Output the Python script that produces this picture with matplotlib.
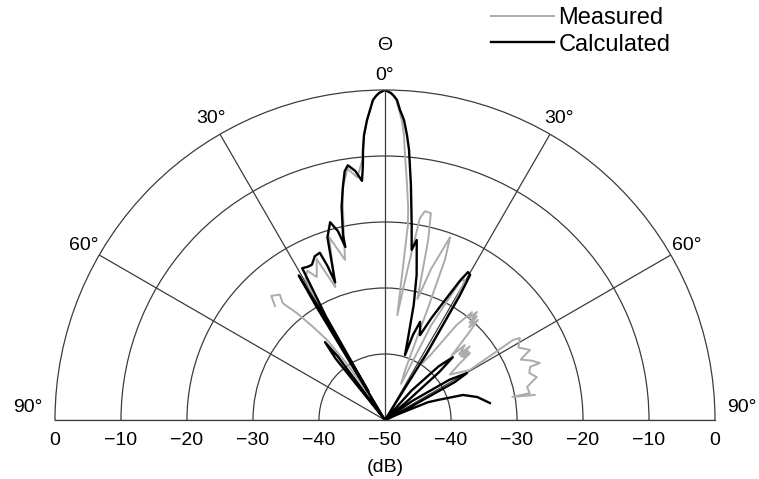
import numpy as np
import matplotlib
matplotlib.use("Agg")
import matplotlib.pyplot as plt
from matplotlib.transforms import ScaledTranslation

plt.rcParams['font.family'] = ['Liberation Sans', 'DejaVu Sans']

# ---- data (theta in degrees, level in dB) ----
calc_theta = [-40, -38.8, -37.6, -36.6, -35.5,
              -32.0, -31.2, -30.8, -30.4, -30.1, -29.7, -28.6,
              -26.8, -25.2, -23.2, -21.3, -20.5, -19.9, -17.5, -15.5, -14.0, -12.9, -12.8,
              -11.5, -10.1, -9.2, -8.3, -6.8, -5.5, -5.0, -4.66, -4.21, -3.43, -2.77, -2.15,
              -1.6, -1.05, 0.0,
              1.05, 1.6, 2.15, 2.77, 3.62, 4.41, 5.08, 6.3, 7.8, 8.9, 10.0, 12.3, 14.0, 15.7,
              17.1, 18.2,
              19.7, 22.4, 24.5, 26.6, 28.3, 29.3, 30.4, 31.0, 32.0, 33.5,
              40.0, 42.0, 45.0, 47.2, 48.5, 50.0, 51.0,
              53.0, 55.0, 58.0, 60.2, 61.5, 63.0, 64.0,
              66.0, 67.5, 69.3, 72.2, 76.0, 80.8]
calc_db = [-50, -38, -35.1, -38, -50,
           -50, -30, -24.5, -32, -45, -32, -23.8,
           -24.0, -24.0, -23.0, -22.8, -25.0, -27.8, -21.0, -18.9, -20.5, -23.1, -21.3,
           -17.0, -13.8, -11.8, -11.0, -12.0, -13.6, -11.5, -9.0, -6.7, -4.47, -2.97, -1.48,
           -0.9, -0.45, 0.0,
           -0.45, -0.9, -1.48, -2.97, -4.45, -6.7, -8.9, -14.2, -20.2, -23.9, -22.3, -27.5, -32.0, -37.1,
           -39.7, -36.4,
           -34.2, -36.1, -33.0, -29.7, -26.0, -24.3, -24.5, -28.0, -38.0, -50,
           -50, -44, -38.5, -36.0, -39.0, -46, -50,
           -50, -45, -38.5, -35.7, -38.0, -46, -50,
           -48, -43, -41.4, -37.6, -35.6, -33.9]

meas_theta = [-44.0, -42.5, -40.0, -41.2, -39.5, -37.7, -35.9, -34.0, -32.5,
              -31.5, -30.5, -29.5, -27.5, -25.5, -23.0, -20.5, -17.0, -14.0, -12.8,
              -10.5, -8.5, -6.5, -5.0, -4.66, -4.21, -3.43, -2.77, -2.15, -1.6, -1.05, 0.0,
              1.0, 1.5, 2.0, 2.6, 3.2, 3.8, 4.2, 5.35, 6.2, 6.7, 6.7, 8.5, 9.8, 10.8, 12.5, 13.5, 15.0, 17.0,
              19.6, 20.5, 21.0, 22.0, 24.0, 26.0, 28.5, 29.8, 31.0, 33.0, 35.0, 37.0,
              38.0, 38.9, 39.5, 40.4, 41.0, 41.5, 42.2, 42.9, 44.0, 46.0, 46.8, 47.7,
              48.5, 49.0, 50.0, 50.5, 51.2, 51.8, 53.0, 55.0, 59.5, 58.0, 58.7, 61.5,
              64.2, 66.0, 68.0, 69.8, 69.9, 72.0, 74.2, 76.9, 79.5, 79.7, 80.5]
meas_db = [-26.0, -24.5, -25.2, -26.5, -29.0, -32.2, -35.0, -40.0, -45.0,
           -40.0, -30.0, -25.5, -24.5, -26.0, -23.5, -28.5, -21.0, -25.0, -22.0,
           -14.5, -11.5, -13.0, -10.5, -9.0, -6.7, -4.47, -2.97, -1.48, -0.9, -0.45, 0.0,
           -0.45, -0.9, -1.5, -3.0, -4.5, -6.7, -9.1, -14.2, -17.5, -20.3, -34.0, -27.0, -19.0, -17.8, -17.9, -22.0, -31.0, -26.0,
           -20.6, -24.0, -32.0, -42.0, -44.0, -34.0, -26.0, -25.5, -30.0, -40.0, -38.0, -32.0,
           -30.5, -29.0, -30.0, -28.5, -30.5, -29.0, -31.0, -29.3, -32.0, -36.0, -33.4, -34.2,
           -35.0, -33.0, -35.0, -33.6, -34.8, -33.6, -36.0, -38.0, -35.1, -27.1, -26.1, -27.0,
           -25.6, -27.5, -26.0, -25.0, -26.6, -27.0, -26.1, -27.9, -27.7, -30.4, -27.0]

ring_levels = [-40, -30, -20, -10]
spoke_angles = [-90, -60, -30, 0, 30, 60, 90]
left_tick_labels = ["0", "\u221210", "\u221220", "\u221230", "\u221240"]
left_tick_values = [0, -10, -20, -30, -40]
center_label = "\u221250"
angle_labels = ["90\u00b0", "60\u00b0", "30\u00b0", "0\u00b0", "30\u00b0", "60\u00b0", "90\u00b0"]
series_names = ["Measured", "Calculated"]

# ---- figure ----
W, H = 759, 479
fig = plt.figure(figsize=(W / 100, H / 100), dpi=100)
cx, cy, R = 385, 420, 330
# square box; the half-disc wedge is centred vertically inside it
box_bottom = (H - cy) - R / 2
ax = fig.add_axes([(cx - R) / W, box_bottom / H, 2 * R / W, 2 * R / H], projection='polar')
ax.set_theta_zero_location('N')
ax.set_theta_direction(-1)
ax.set_thetamin(-90)
ax.set_thetamax(90)
ax.set_rlim(-50, 0)
ax.set_rticks(ring_levels)
ax.set_thetagrids(spoke_angles, labels=[''] * len(spoke_angles))
ax.set_yticklabels([])
gcol = '#3c3c3c'
ax.grid(True, color=gcol, lw=0.9)
ax.tick_params(length=0)
for s in ax.spines.values():
    s.set_color(gcol)
    s.set_linewidth(0.9)

lm, = ax.plot(np.deg2rad(meas_theta), meas_db, color='#ababab', lw=1.4)
lc, = ax.plot(np.deg2rad(calc_theta), calc_db, color='black', lw=1.7)

fs = 14
down = ScaledTranslation(0, -12 / 100, fig.dpi_scale_trans)
for v, t in zip(left_tick_values, left_tick_labels):
    ax.text(np.deg2rad(-90), v, t, ha='center', va='top', fontsize=fs,
            transform=ax.transData + down)
    ax.text(np.deg2rad(90), v, t, ha='center', va='top', fontsize=fs,
            transform=ax.transData + down)
ax.text(0, -50, center_label, ha='center', va='top', fontsize=fs,
        transform=ax.transData + down)
ax.text(0, -50, "(dB)", ha='center', va='center', fontsize=fs,
        transform=ax.transData + ScaledTranslation(0, -47 / 100, fig.dpi_scale_trans))

# angle labels just outside the outer ring
for a, lab in zip(spoke_angles, angle_labels):
    rr = 18
    if abs(a) == 90:
        dx = np.sign(a) * 27
        dy = 12
    elif a == 0:
        dx, dy = 0, 15
    else:
        dx = rr * np.sin(np.deg2rad(a))
        dy = rr * np.cos(np.deg2rad(a))
    ax.text(np.deg2rad(a), 0, lab, ha='center', va='center', fontsize=fs,
            transform=ax.transData + ScaledTranslation(dx / 100, dy / 100, fig.dpi_scale_trans))
ax.text(0, 0, "\u0398", ha='center', va='center', fontsize=fs,
        transform=ax.transData + ScaledTranslation(0, 45 / 100, fig.dpi_scale_trans))

fig.legend([lm, lc], series_names, loc='upper left', bbox_to_anchor=(491 / W, 1 - 7 / H),
           frameon=False, fontsize=17, handlelength=2.65, handletextpad=0.2,
           labelspacing=0.2, borderaxespad=0, borderpad=0)

fig.savefig('out.png', dpi=100)
